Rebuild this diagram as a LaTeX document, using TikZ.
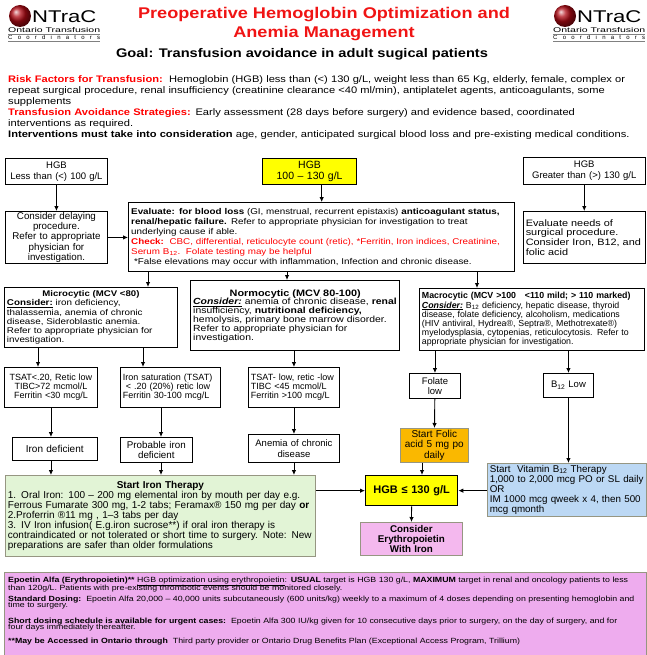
\documentclass[tikz,border=0pt]{standalone}
\usepackage{fontspec}
\setmainfont{Liberation Sans}
\newfontfamily\widefont{Liberation Sans}[FakeStretch=1.17, Ligatures=TeX]
\usepackage{graphicx}
\usepackage{tikz}
\usetikzlibrary{arrows.meta}

\definecolor{hgbyellow}{RGB}{255,255,0}
\definecolor{folicorange}{RGB}{250,184,0}
\definecolor{irongreen}{RGB}{226,244,214}
\definecolor{vitblue}{RGB}{188,216,244}
\definecolor{epopink}{RGB}{244,184,238}
\definecolor{notepink}{RGB}{238,172,238}
\definecolor{titlered}{RGB}{240,20,20}
\definecolor{logored}{RGB}{175,10,20}
\definecolor{edgegray}{RGB}{150,150,130}

\newcommand{\fs}[2]{\fontsize{#1}{#2}\selectfont\lineskiplimit=-10pt\relax}

\tikzset{
  box/.style={draw, line width=0.9pt, anchor=north west, inner xsep=2.5pt, inner ysep=1pt},
  thinbox/.style={box, line width=0.5pt},
  thickbox/.style={box, line width=1.4pt},
  arr/.style={-{Latex[length=5pt,width=4.5pt]}, line width=0.9pt},
}

\begin{document}
\begin{tikzpicture}[x=1pt, y=-1pt]
  \useasboundingbox (0,0) rectangle (646,655);

  % Logos
  \foreach \lx in {8,553} {
    \shade[ball color=logored] (\lx+12,16) circle (11);
    \node[anchor=west, inner sep=0, font=\fs{17}{17}] (ntrac\lx) at (\lx+24,17) {\scalebox{1.3}[1]{NTraC}};
    \node[anchor=base west, inner sep=0] (otc\lx) at (\lx,33) {\resizebox{92pt}{5pt}{Ontario Transfusion}};
    \node[anchor=base west, inner sep=0, font=\fs{6}{6}] (coord\lx) at (\lx,40) {\makebox[92pt][s]{C\hfill o\hfill o\hfill r\hfill d\hfill i\hfill n\hfill a\hfill t\hfill o\hfill r\hfill s}};
    \draw[gray, line width=0.6pt] (\lx,34.5) -- ++(92,0);
    \draw[gray, line width=0.6pt] (\lx,41.5) -- ++(92,0);
  }

  % Title and header text
  \node[inner sep=0, align=center, text=titlered, font=\widefont\fs{15.5}{19}\bfseries] (title) at (324,24) {Preoperative Hemoglobin Optimization and\\Anemia Management};
  \node[inner sep=0, font=\widefont\fs{12.5}{14}\bfseries] (goal) at (302,54) {Goal: Transfusion avoidance in adult sugical patients};
  \node[anchor=north west, inner sep=0, text width=638pt, align=left, font=\widefont\fs{9.5}{11}] (risk) at (8,75) {%
    {\color{red}\textbf{Risk Factors for Transfusion:}}\ \ Hemoglobin (HGB) less than (<) 130 g/L, weight less than 65 Kg, elderly, female, complex or\\
    repeat surgical procedure, renal insufficiency (creatinine clearance <40 ml/min), antiplatelet agents, anticoagulants, some\\
    supplements\\
    {\color{red}\textbf{Transfusion Avoidance Strategies:}} Early assessment (28 days before surgery) and evidence based, coordinated\\
    interventions as required.\\
    \textbf{Interventions must take into consideration} age, gender, anticipated surgical blood loss and pre-existing medical conditions.};

  % HGB levels
  \node[box, text width=97pt, minimum height=26pt, align=center, font=\fs{9.5}{10.5}] (hlow) at (5,158) {HGB\\Less than (<) 100 g/L};
  \node[box, line width=1.2pt, fill=hgbyellow, text width=89pt, minimum height=26pt, align=center, font=\fs{10.5}{10.5}] (hmid) at (262,158) {HGB\\100 -- 130 g/L};
  \node[thinbox, text width=117pt, minimum height=27pt, align=center, font=\fs{9.5}{10.5}] (hhigh) at (523,157) {HGB\\Greater than (>) 130 g/L};

  % Second row
  \node[box, text width=97pt, minimum height=52pt, align=center, font=\fs{9.8}{10.2}] (delay) at (5,211) {Consider delaying\\procedure.\\Refer to appropriate\\physician for\\investigation.};
  \node[thickbox, text width=381pt, minimum height=69pt, align=left, font=\widefont\fs{8.4}{10}] (eval) at (128,202) {%
    \textbf{Evaluate: for blood loss} (GI, menstrual, recurrent epistaxis) \textbf{anticoagulant status,}\\
    \textbf{renal/hepatic failure.} Refer to appropriate physician for investigation to treat\\
    underlying cause if able.\\
    {\color{red}\textbf{Check:}\ \ CBC, differential, reticulocyte count (retic), *Ferritin, Iron indices, Creatinine,}\\
    {\color{red}Serum B\textsubscript{12}.\ \ Folate testing may be helpful}\\
    \ *False elevations may occur with inflammation, Infection and chronic disease.};
  \node[thinbox, text width=117pt, minimum height=52pt, align=left, font=\widefont\fs{9.3}{9.7}] (needs) at (523,211) {Evaluate needs of\\surgical procedure.\\Consider Iron, B12, and\\folic acid};

  % MCV classes
  \node[box, text width=168pt, minimum height=60pt, align=left, font=\widefont\fs{8.4}{9.1}] (micro) at (4,287) {%
    \centerline{\fs{8.2}{9.1}\textbf{Microcytic (MCV <80)}}
    \ \underline{\textbf{Consider:}} iron deficiency,\\thalassemia, anemia of chronic\\disease, Sideroblastic anemia.\\Refer to appropriate physician for\\investigation.};
  \node[thickbox, text width=204pt, minimum height=70pt, align=left, font=\widefont\fs{8.9}{8.8}] (normo) at (190,280) {%
    \centerline{\fs{9.3}{10}\textbf{Normocytic (MCV 80-100)}}
    \underline{\textbf{\textit{Consider:}}} anemia of chronic disease, \textbf{renal}\\insufficiency, \textbf{nutritional deficiency,}\\hemolysis, primary bone marrow disorder.\\Refer to appropriate physician for\\investigation.};
  \node[box, text width=220pt, minimum height=62pt, align=left, font=\fs{8.8}{9.1}] (macro) at (419,288) {%
    \textbf{Macrocytic (MCV >100\ \ \ <110 mild; > 110 marked)}\\
    \underline{\textbf{\textit{Consider:}}}\ B\textsubscript{12} deficiency,\ hepatic disease, thyroid\\
    disease, folate deficiency, alcoholism,\ medications\\
    (HIV antiviral, Hydrea®, Septra®, Methotrexate®)\\
    myelodysplasia, cytopenias, reticulocytosis. Refer to\\
    appropriate physician for investigation.};

  % Lab results
  \node[box, text width=88pt, minimum height=40pt, align=center, font=\fs{9}{9.2}] (tsat1) at (4,367) {TSAT<.20, Retic low\\TIBC>72 mcmol/L\\Ferritin <30 mcg/L};
  \node[box, text width=95pt, minimum height=40pt, align=left, font=\fs{9}{9.2}] (isat) at (120,367) {Iron saturation (TSAT)\\\ < .20 (20\%) retic low\\Ferritin 30-100 mcg/L};
  \node[box, text width=86pt, minimum height=40pt, align=left, font=\fs{9}{9.2}] (tsat2) at (248,367) {TSAT- low, retic -low\\TIBC <45 mcmol/L\\Ferritin >100 mcg/L};
  \node[box, text width=46pt, minimum height=25pt, align=center, font=\fs{9.5}{10.5}] (folate) at (409,373) {Folate\\low};
  \node[box, text width=45pt, minimum height=24pt, align=center, font=\fs{9.5}{10.5}] (b12) at (543,373) {B\textsubscript{12} Low};

  % Diagnoses
  \node[thinbox, text width=80pt, minimum height=23pt, align=center, font=\fs{10}{10.5}] (irondef) at (12,437) {Iron deficient};
  \node[box, line width=0.7pt, text width=67pt, minimum height=25pt, align=center, font=\fs{9.8}{10.5}] (prob) at (120,437) {Probable iron\\deficient};
  \node[box, text width=86pt, minimum height=28pt, align=center, font=\fs{9.5}{10.5}] (anemia) at (248,434) {Anemia of chronic\\disease};
  \node[box, draw=edgegray, line width=0.6pt, fill=folicorange, text width=63pt, minimum height=34pt, align=center, font=\fs{10}{10.8}] (folic) at (400,428) {Start Folic\\acid 5 mg po\\daily};

  % Therapy
  \node[box, draw=edgegray, line width=0.8pt, fill=irongreen, text width=305pt, minimum height=81pt, align=left, font=\fs{10}{10}] (iron) at (5,475) {%
    \centerline{\textbf{Start Iron Therapy}}
    1. Oral Iron: 100 -- 200 mg elemental iron\ by mouth per day e.g.\\
    Ferrous Fumarate 300 mg, 1-2 tabs; Feramax®\ 150 mg per day \textbf{or}\\
    2.Proferrin ®11 mg , 1--3 tabs per day\\
    3. IV Iron infusion( E.g.iron sucrose**) if oral iron therapy is\\
    contraindicated or not tolerated or short time to surgery. Note: New\\
    preparations are safer than older formulations};
  \node[box, line width=1.3pt, fill=hgbyellow, text width=87pt, minimum height=30pt, align=center, font=\fs{11}{12}\bfseries] (hgbt) at (365,475) {HGB ≤ 130 g/L};
  \node[box, draw=edgegray, line width=0.6pt, fill=vitblue, text width=154pt, minimum height=53pt, align=left, font=\fs{9.8}{10}] (vit) at (487,463) {Start\ \ Vitamin B\textsubscript{12} Therapy\\1,000 to 2,000 mcg PO or SL daily\\OR\\IM 1000 mcg qweek x 4, then 500\\mcg qmonth};
  \node[box, draw=edgegray, line width=0.8pt, fill=epopink, text width=97pt, minimum height=33pt, align=center, font=\fs{9.8}{9.7}\bfseries] (epo) at (360,522) {Consider\\Erythropoietin\\With Iron};

  % Epoetin notes
  \node[box, draw=edgegray, line width=0.8pt, fill=notepink, minimum width=642pt, minimum height=86pt, inner sep=0] (notebox) at (4,572) {};
  \node[anchor=north west, inner sep=0, text width=638pt, align=left, font=\widefont\fs{7.5}{8}] (notetext) at (8,576.5) {%
    \textbf{Epoetin Alfa (Erythropoietin)**} \underline{HGB optimization using erythropoietin}: \textbf{USUAL} target is HGB 130 g/L, \textbf{MAXIMUM} target\ in renal and oncology patients to less\\
    than 120g/L. Patients with pre-existing thrombotic events should be monitored closely.\\[3pt]
    \textbf{Standard Dosing:}\ \ Epoetin Alfa 20,000 – 40,000 units subcutaneously (600 units/kg) weekly to a maximum of 4 doses depending on presenting hemoglobin and\\[-2pt]
    time to surgery.\\[8.5pt]
    \textbf{Short dosing schedule is available for urgent cases:}\ \ Epoetin Alfa 300 IU/kg given for 10 consecutive days prior to surgery, on the day of surgery, and for\\[-2pt]
    four days immediately thereafter.\\[5.5pt]
    \textbf{**May be Accessed in Ontario through}\ \ Third\ party provider or Ontario Drug Benefits Plan (Exceptional Access Program, Trillium)};

  % Column positions of the connectors
  \coordinate (cmi) at (148,0);
  \coordinate (cno) at (287,0);
  \coordinate (cma) at (477,0);
  \coordinate (cts) at (38,0);
  \coordinate (cis) at (143,0);
  \coordinate (cpr) at (161,0);
  \coordinate (cfo) at (422,0);

  % Connectors
  \draw[arr] (hlow) -- (delay);
  \draw[arr] (delay.east) -- (delay.east -| eval.west);
  \draw[arr] (hmid.south -| eval.north) -- (eval.north);
  \draw[arr] (hhigh) -- (needs);
  \draw[arr] (eval.south -| cmi) -- (micro.north -| cmi);
  \draw[arr] (eval.south -| cno) -- (normo.north -| cno);
  \draw[arr] (eval.south -| cma) -- (macro.north -| cma);
  \draw[arr] (micro.south -| cts) -- (tsat1.north -| cts);
  \draw[arr] (micro.south -| cis) -- (isat.north -| cis);
  \draw[arr] (normo.south -| tsat2.north) -- (tsat2.north);
  \draw[arr] (macro.south -| folate.north) -- (folate.north);
  \draw[arr] (macro.south -| b12.north) -- (b12.north);
  \draw[arr] (tsat1.south) -- (irondef.north -| tsat1.south);
  \draw[arr] (isat.south -| cpr) -- (prob.north -| cpr);
  \draw[arr] (tsat2) -- (anemia);
  \draw[arr] (irondef.south -| tsat1.south) -- (iron.north -| tsat1.south);
  \draw[arr] (prob.south -| cpr) -- (iron.north -| cpr);
  \draw[arr] (anemia.south) -- (iron.north -| anemia.south);
  \draw[arr] (folate) -- (folic);
  \draw[arr] (folic.south -| cfo) -- (hgbt.north -| cfo);
  \draw[arr] (b12.south) -- (b12.south |- vit.north);
  \draw[arr] (iron.east |- hgbt.west) -- (hgbt.west);
  \draw[arr] (vit.west |- hgbt.east) -- (hgbt.east);
  \draw[arr] (hgbt) -- (epo);
\end{tikzpicture}
\end{document}
